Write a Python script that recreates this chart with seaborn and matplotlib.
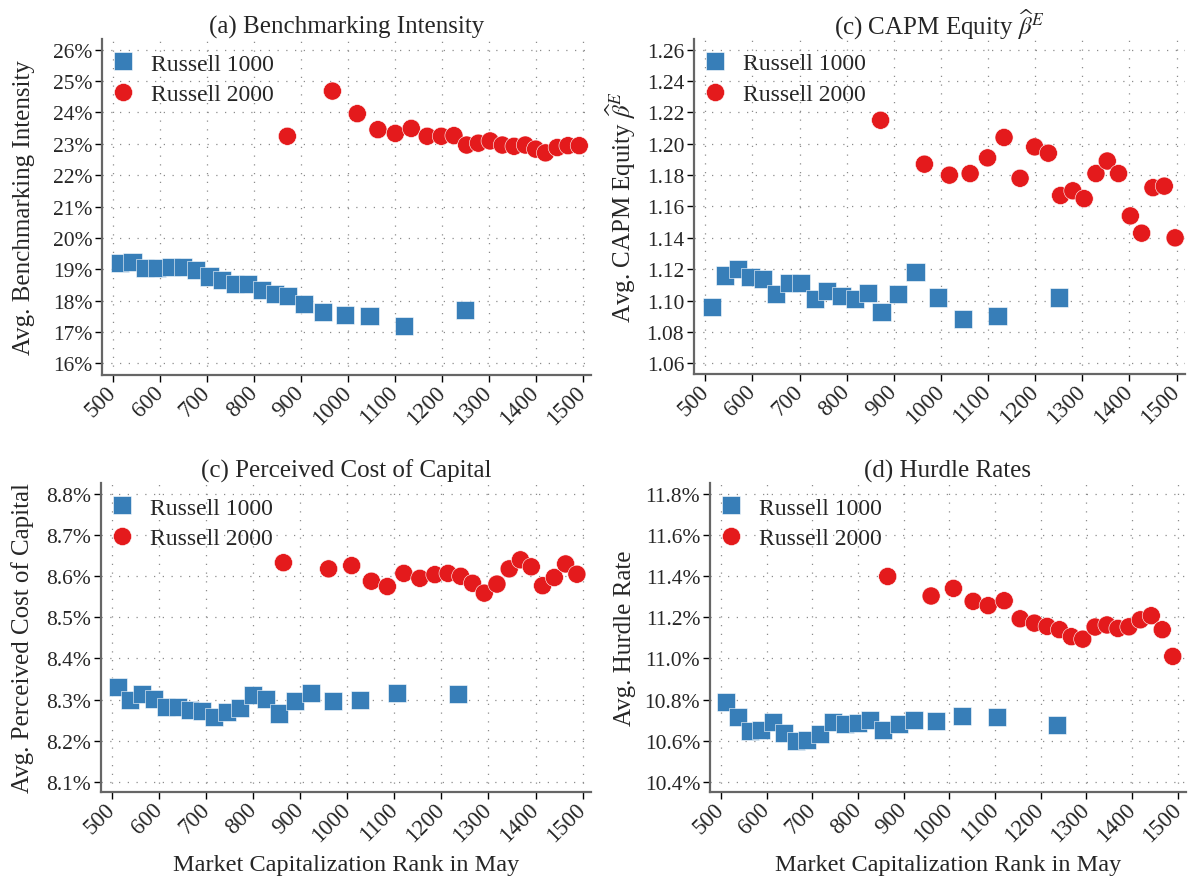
import numpy as np
import pandas as pd
import matplotlib
matplotlib.use("Agg")
import matplotlib.pyplot as plt
import seaborn as sns
from matplotlib.ticker import FuncFormatter, MultipleLocator

# ---------------- data ----------------
# (a) Benchmarking Intensity (%)
a_r1_x = [514, 541, 568, 594, 623, 648, 676, 705, 732, 760, 787, 816, 844, 873, 907, 946, 993, 1046, 1119, 1250]
a_r1_y = [19.20, 19.22, 19.03, 19.03, 19.06, 19.06, 18.98, 18.77, 18.67, 18.53, 18.53, 18.35, 18.21, 18.16, 17.88, 17.63, 17.54, 17.51, 17.20, 17.70]
a_r2_x = [871, 967, 1020, 1064, 1101, 1135, 1169, 1199, 1226, 1253, 1278, 1303, 1329, 1354, 1378, 1400, 1421, 1446, 1469, 1493]
a_r2_y = [23.24, 24.68, 23.96, 23.45, 23.33, 23.49, 23.24, 23.24, 23.26, 22.96, 23.02, 23.09, 22.96, 22.92, 22.96, 22.83, 22.71, 22.88, 22.94, 22.94]

# (b) CAPM Equity beta
b_r1_x = [514, 542, 570, 596, 623, 650, 677, 704, 732, 759, 789, 817, 846, 874, 908, 946, 994, 1047, 1120, 1251]
b_r1_y = [1.096, 1.116, 1.120, 1.115, 1.114, 1.104, 1.111, 1.111, 1.101, 1.106, 1.103, 1.101, 1.105, 1.093, 1.104, 1.118, 1.102, 1.088, 1.090, 1.102]
b_r2_x = [872, 965, 1018, 1062, 1099, 1134, 1168, 1199, 1228, 1254, 1280, 1304, 1329, 1353, 1377, 1402, 1426, 1450, 1474, 1497]
b_r2_y = [1.215, 1.187, 1.180, 1.181, 1.191, 1.204, 1.178, 1.198, 1.194, 1.167, 1.170, 1.165, 1.181, 1.189, 1.181, 1.154, 1.143, 1.172, 1.173, 1.140]

# (c) Perceived Cost of Capital (%)
c_r1_x = [513, 538, 564, 589, 614, 639, 665, 690, 716, 744, 771, 800, 827, 855, 889, 923, 969, 1026, 1105, 1235]
c_r1_y = [8.330, 8.299, 8.313, 8.301, 8.281, 8.281, 8.275, 8.273, 8.257, 8.269, 8.279, 8.311, 8.301, 8.266, 8.296, 8.317, 8.297, 8.299, 8.317, 8.313]
c_r2_x = [864, 960, 1009, 1051, 1085, 1120, 1154, 1186, 1214, 1241, 1266, 1291, 1318, 1344, 1368, 1391, 1415, 1440, 1464, 1488]
c_r2_y = [8.633, 8.618, 8.626, 8.588, 8.575, 8.607, 8.595, 8.604, 8.607, 8.600, 8.583, 8.559, 8.581, 8.618, 8.640, 8.623, 8.577, 8.597, 8.630, 8.605]

# (d) Hurdle Rates (%)
d_r1_x = [512, 538, 563, 587, 613, 638, 664, 689, 716, 746, 772, 800, 827, 855, 890, 922, 970, 1027, 1104, 1235]
d_r1_y = [10.786, 10.716, 10.648, 10.653, 10.689, 10.637, 10.600, 10.605, 10.632, 10.689, 10.681, 10.684, 10.700, 10.653, 10.681, 10.702, 10.697, 10.721, 10.716, 10.676]
d_r2_x = [865, 960, 1009, 1052, 1085, 1120, 1155, 1186, 1214, 1241, 1267, 1292, 1319, 1345, 1369, 1393, 1418, 1442, 1466, 1489]
d_r2_y = [11.399, 11.304, 11.341, 11.278, 11.257, 11.281, 11.193, 11.172, 11.156, 11.140, 11.106, 11.094, 11.153, 11.163, 11.146, 11.154, 11.188, 11.208, 11.140, 11.010]

series_names = ["Russell 1000", "Russell 2000"]
titles = ["(a) Benchmarking Intensity", r"(c) CAPM Equity $\widehat{\beta}^E$",
          "(c) Perceived Cost of Capital", "(d) Hurdle Rates"]
ylabels = ["Avg. Benchmarking Intensity", r"Avg. CAPM Equity $\widehat{\beta}^E$",
           "Avg. Perceived Cost of Capital", "Avg. Hurdle Rate"]
xlabel = "Market Capitalization Rank in May"
x_ticks = [500, 600, 700, 800, 900, 1000, 1100, 1200, 1300, 1400, 1500]

# ---------------- style ----------------
sns.set_theme(style="white")
plt.rcParams["font.family"] = ["Liberation Serif", "DejaVu Serif"]
plt.rcParams["mathtext.fontset"] = "stix"

BLUE = "#377eb8"
RED = "#e41a1c"

fig = plt.figure(figsize=(11.88, 8.79), dpi=100)
W, H = 1188, 879

def rect(l, r, t, b):
    return [l / W, 1 - b / H, (r - l) / W, (b - t) / H]

axes = [
    fig.add_axes(rect(102, 591, 40, 376)),
    fig.add_axes(rect(694, 1185, 40, 375)),
    fig.add_axes(rect(101, 591, 484, 793)),
    fig.add_axes(rect(710, 1186, 484, 793)),
]

panels = [
    (a_r1_x, a_r1_y, a_r2_x, a_r2_y),
    (b_r1_x, b_r1_y, b_r2_x, b_r2_y),
    (c_r1_x, c_r1_y, c_r2_x, c_r2_y),
    (d_r1_x, d_r1_y, d_r2_x, d_r2_y),
]

ylims = [(15.63, 26.34), (1.0532, 1.2668), (8.075, 8.827), (10.35, 11.854)]
ysteps = [1.0, 0.02, 0.1, 0.2]
yfmts = [lambda v, p: f"{v:.0f}%", lambda v, p: f"{v:.2f}",
         lambda v, p: f"{v:.1f}%", lambda v, p: f"{v:.1f}%"]
ylabelpads = [13, 6, 9, 6]

for i, ax in enumerate(axes):
    x1, y1, x2, y2 = panels[i]
    df = pd.DataFrame({
        "rank": list(x1) + list(x2),
        "val": list(y1) + list(y2),
        "Index": [series_names[0]] * len(x1) + [series_names[1]] * len(x2),
    })
    sns.scatterplot(data=df, x="rank", y="val", hue="Index", style="Index",
                    palette={series_names[0]: BLUE, series_names[1]: RED},
                    markers={series_names[0]: "s", series_names[1]: "o"},
                    s=170, edgecolor="white", linewidth=0.4, ax=ax, zorder=3)
    ax.set_xlim(476, 1518)
    ax.set_ylim(*ylims[i])
    ax.set_xticks(x_ticks)
    ax.yaxis.set_major_locator(MultipleLocator(ysteps[i]))
    ax.yaxis.set_major_formatter(FuncFormatter(yfmts[i]))
    ax.grid(True, which="major", color="#8c8c8c", linestyle=(0, (1, 6)), linewidth=0.9)
    ax.set_axisbelow(True)
    for s in ["top", "right"]:
        ax.spines[s].set_visible(False)
    for s in ["left", "bottom"]:
        ax.spines[s].set_color("#666666")
        ax.spines[s].set_linewidth(1.6)
    ax.tick_params(axis="both", which="major", direction="out", length=5, width=1,
                   color="black", left=True, bottom=True)
    ax.tick_params(axis="y", labelsize=15.5, pad=2)
    ax.tick_params(axis="x", labelsize=16.5, pad=5)
    plt.setp(ax.get_xticklabels(), rotation=45, ha="right", va="center",
             rotation_mode="anchor")
    ax.set_title(titles[i], fontsize=18, pad=4.5)
    ax.set_ylabel(ylabels[i], fontsize=18, labelpad=ylabelpads[i])
    if i >= 2:
        ax.set_xlabel(xlabel, fontsize=17.5, labelpad=6)
    else:
        ax.set_xlabel("")
    ax_h_px = (376 - 40) if i < 2 else (793 - 484)
    ax_w_px = 489 if i != 3 else 476
    leg = ax.legend(loc="upper left", frameon=False, fontsize=17, title=None,
                    handlelength=1.0, handletextpad=0.7, labelspacing=0.4,
                    borderpad=0.0, borderaxespad=0.0,
                    bbox_to_anchor=(9.0 / ax_w_px, 1 - 14.0 / ax_h_px))

fig.savefig("out.png", dpi=100)
